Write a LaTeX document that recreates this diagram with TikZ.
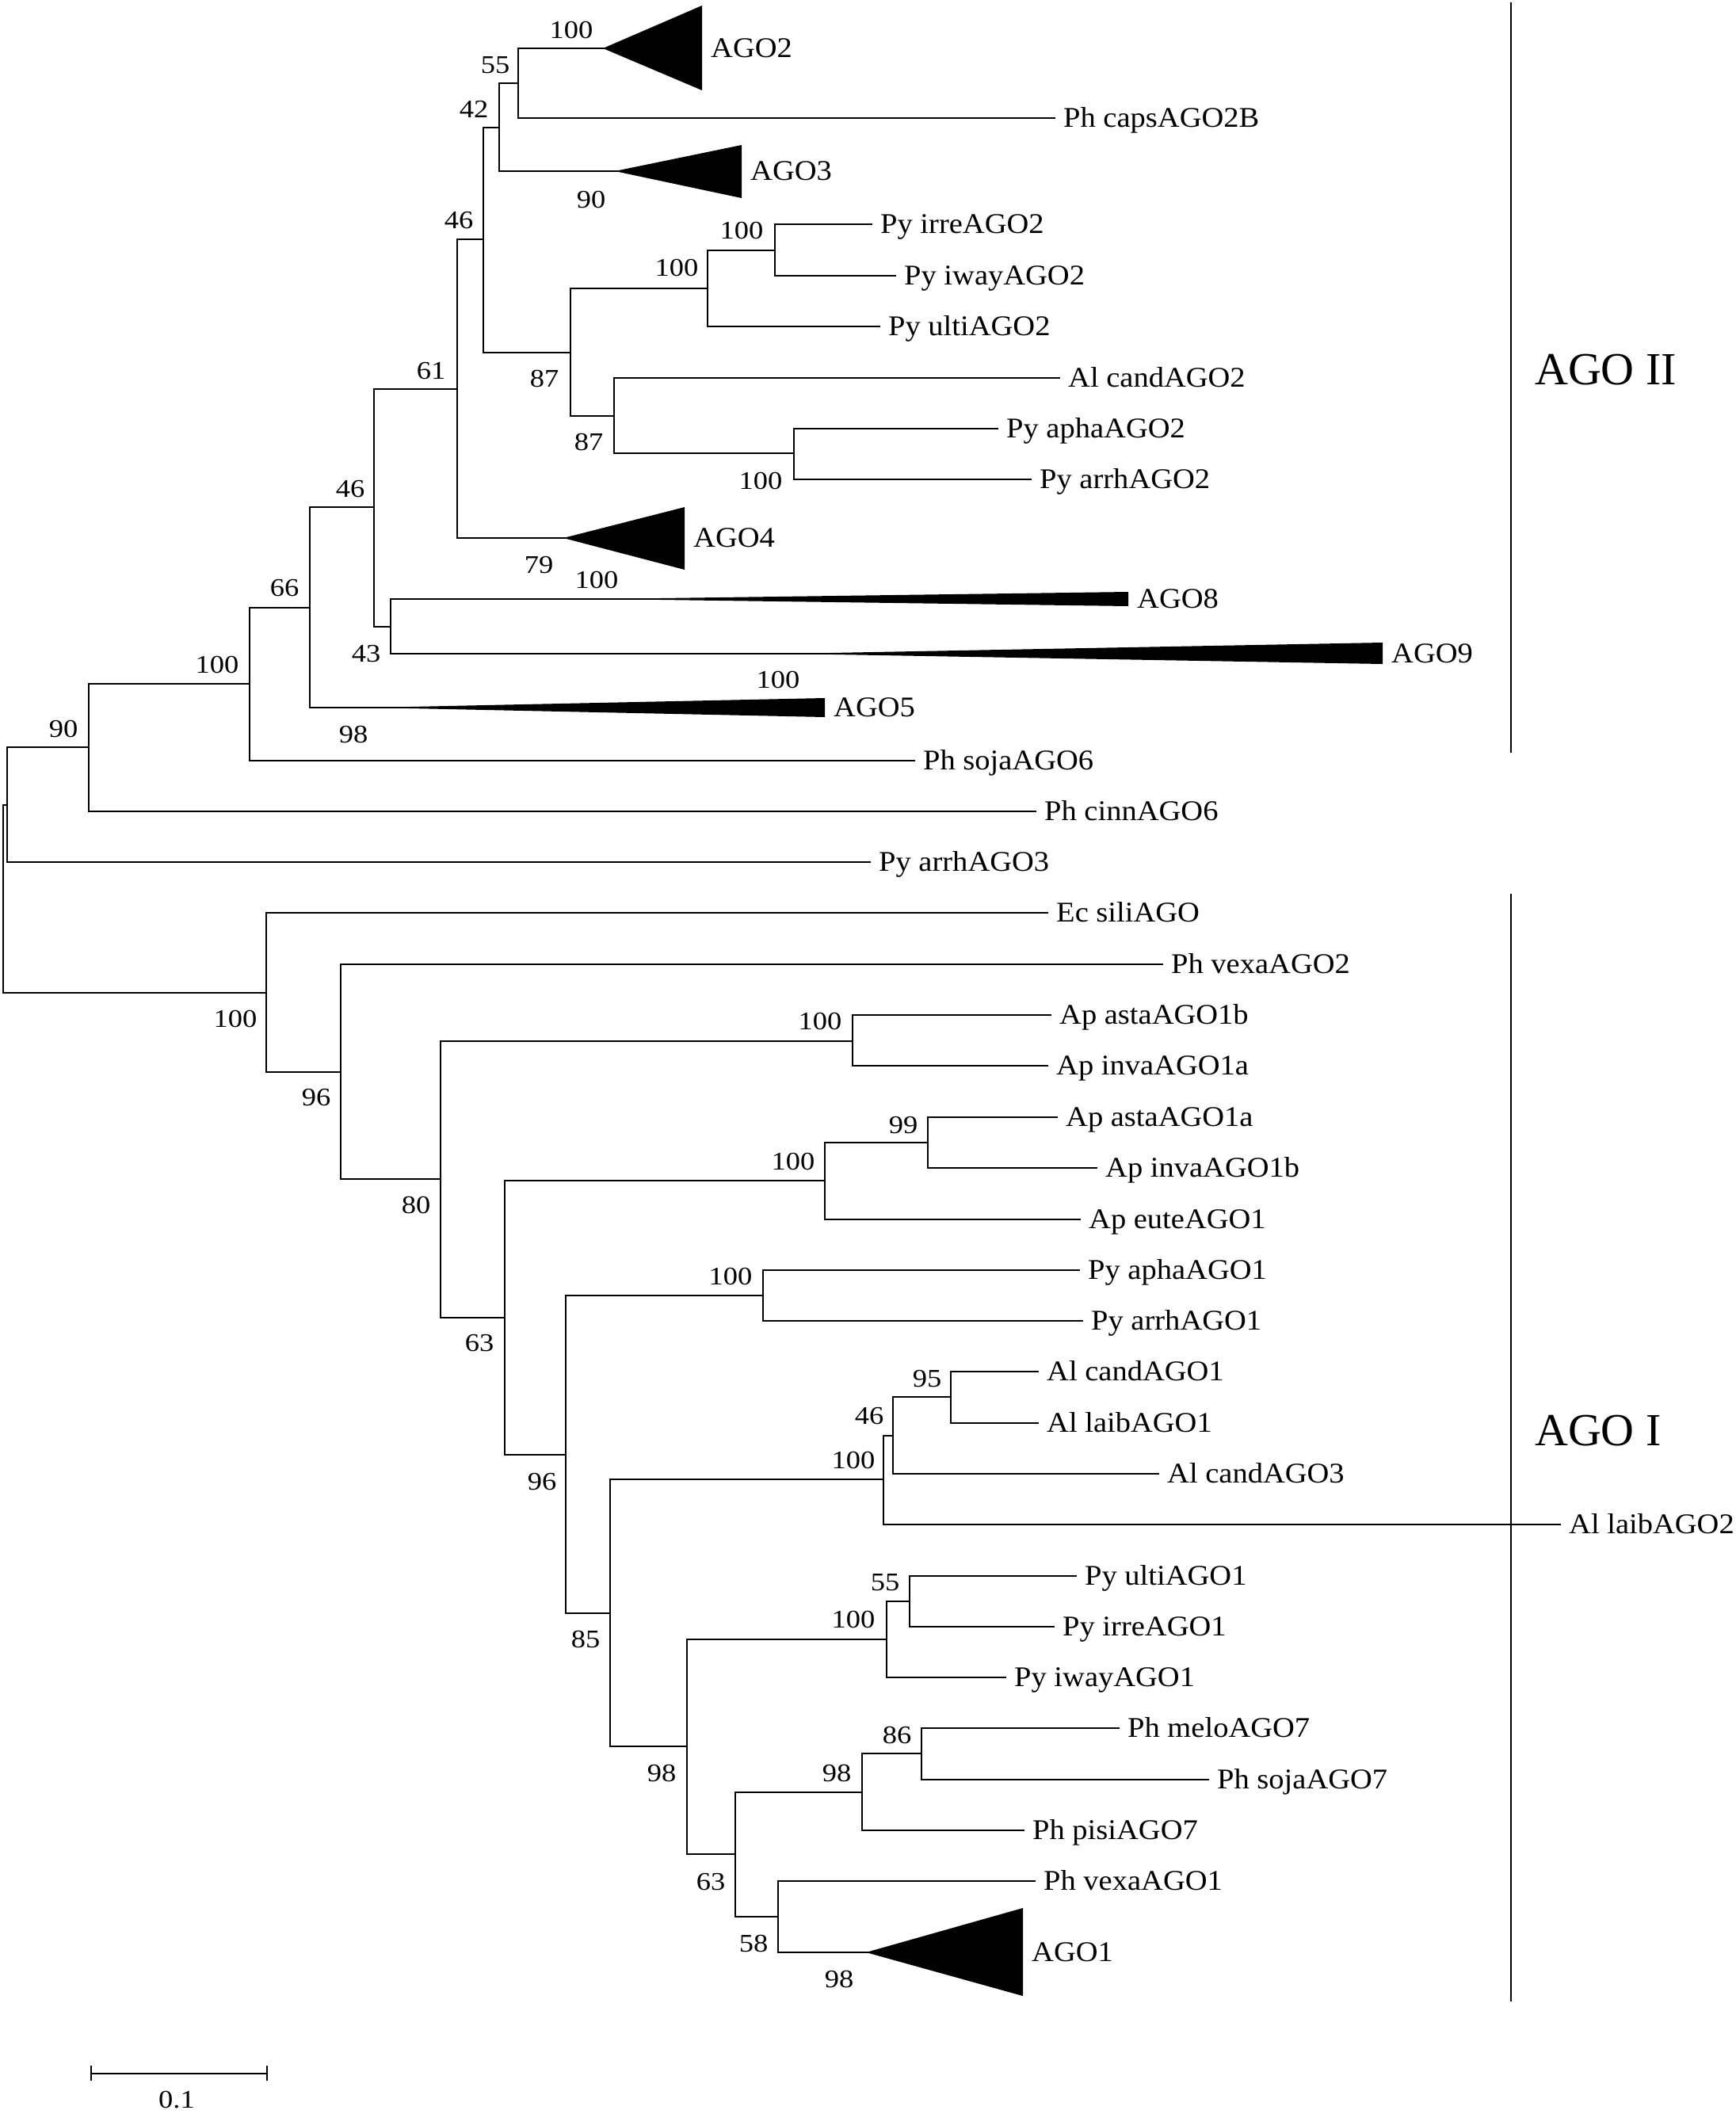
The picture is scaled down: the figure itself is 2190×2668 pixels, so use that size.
\documentclass[tikz,border=0pt]{standalone}
\usepackage{fontspec}
\setmainfont{Liberation Serif}
\newfontfamily\leaffam[FakeStretch=1.07]{Liberation Serif}
\newfontfamily\numfam[FakeStretch=1.14]{Liberation Serif}
\begin{document}
\begin{tikzpicture}[x=1pt,y=-1pt,
  br/.style={line width=2.6pt, line cap=rect},
  wedge/.style={fill=black, draw=none},
  leaf/.style={anchor=west, inner xsep=11pt, inner ysep=0pt, text height=23.8pt, text depth=0pt,
    font=\leaffam\fontsize{36}{42}\selectfont},
  num/.style={inner sep=0pt, text height=21.6pt, text depth=0pt,
    font=\numfam\fontsize{32}{38}\selectfont},
  clade/.style={anchor=west, inner sep=0pt, text height=38pt, text depth=0pt,
    font=\fontsize{58}{66}\selectfont},
  bracket/.style={line width=2.6pt}]
\useasboundingbox (0,0) rectangle (2190,2668);

% ---------- internal nodes ----------
\coordinate (root) at (4,1134);
\coordinate (nA) at (9,1016);
\coordinate (n90) at (112,943);
\coordinate (n100a) at (315,863);
\coordinate (n66) at (391,767);
\coordinate (n46b) at (472,640);
\coordinate (n61) at (577,491);
\coordinate (n46a) at (610,302);
\coordinate (n42) at (630,161);
\coordinate (n55) at (654,105);
\coordinate (n87a) at (720,445);
\coordinate (n100b) at (893,364);
\coordinate (n100c) at (978,316);
\coordinate (n87b) at (775,525);
\coordinate (n100d) at (1002,572);
\coordinate (n43) at (493,791);
\coordinate (nI) at (336,1253);
\coordinate (n96a) at (430,1353);
\coordinate (n80) at (556,1488);
\coordinate (n100e) at (1076,1314);
\coordinate (n63a) at (637,1663);
\coordinate (n100f) at (1041,1490);
\coordinate (n99) at (1171,1442);
\coordinate (n96b) at (714,1836);
\coordinate (n100g) at (963,1635);
\coordinate (n85) at (770,2036);
\coordinate (n100h) at (1115,1867);
\coordinate (n46c) at (1127,1812);
\coordinate (n95) at (1200,1763);
\coordinate (n98a) at (867,2204);
\coordinate (n100i) at (1119,2069);
\coordinate (n55b) at (1148,2021);
\coordinate (n63b) at (928,2340);
\coordinate (n98b) at (1088,2262);
\coordinate (n86) at (1163,2213);
\coordinate (n58) at (982,2419);

% ---------- collapsed clades (wedges): apex and inner end ----------
\coordinate (tAGO2) at (761,61);   \coordinate (eAGO2) at (870,61);
\coordinate (tAGO3) at (776,216);  \coordinate (eAGO3) at (920,216);
\coordinate (tAGO4) at (711,679);  \coordinate (eAGO4) at (850,679);
\coordinate (tAGO8) at (760,756);  \coordinate (eAGO8) at (1410,756);
\coordinate (tAGO9) at (995,825);  \coordinate (eAGO9) at (1730,825);
\coordinate (tAGO5) at (470,893);  \coordinate (eAGO5) at (1028,893);
\coordinate (tAGO1) at (1093,2464); \coordinate (eAGO1) at (1275,2464);
\fill[wedge] (tAGO2) -- (886,7) -- (886,114) -- cycle;
\fill[wedge] (tAGO3) -- (936,183) -- (936,250) -- cycle;
\fill[wedge] (tAGO4) -- (864,640) -- (864,719) -- cycle;
\fill[wedge] (tAGO8) -- (1424,747) -- (1424,765) -- cycle;
\fill[wedge] (tAGO9) -- (1745,811) -- (1745,838) -- cycle;
\fill[wedge] (tAGO5) -- (1041,881) -- (1041,905) -- cycle;
\fill[wedge] (tAGO1) -- (1291,2408) -- (1291,2519) -- cycle;

% ---------- leaf labels ----------
\node[leaf] (AGO2) at (886,61) {AGO2};
\node[leaf] (capsAGO2B) at (1331,149) {Ph capsAGO2B};
\node[leaf] (AGO3) at (936,216) {AGO3};
\node[leaf] (irreAGO2) at (1100,283) {Py irreAGO2};
\node[leaf] (iwayAGO2) at (1130,348) {Py iwayAGO2};
\node[leaf] (ultiAGO2) at (1110,412) {Py ultiAGO2};
\node[leaf] (candAGO2) at (1337,477) {Al candAGO2};
\node[leaf] (aphaAGO2) at (1259,541) {Py aphaAGO2};
\node[leaf] (arrhAGO2) at (1301,605) {Py arrhAGO2};
\node[leaf] (AGO4) at (864,679) {AGO4};
\node[leaf] (AGO8) at (1424,756) {AGO8};
\node[leaf] (AGO9) at (1745,825) {AGO9};
\node[leaf] (AGO5) at (1041,893) {AGO5};
\node[leaf] (sojaAGO6) at (1154,960) {Ph sojaAGO6};
\node[leaf] (cinnAGO6) at (1307,1024) {Ph cinnAGO6};
\node[leaf] (arrhAGO3) at (1098,1088) {Py arrhAGO3};
\node[leaf] (siliAGO) at (1322,1152) {Ec siliAGO};
\node[leaf] (vexaAGO2) at (1467,1217) {Ph vexaAGO2};
\node[leaf] (astaAGO1b) at (1326,1281) {Ap astaAGO1b};
\node[leaf] (invaAGO1a) at (1322,1345) {Ap invaAGO1a};
\node[leaf] (astaAGO1a) at (1334,1410) {Ap astaAGO1a};
\node[leaf] (invaAGO1b) at (1384,1474) {Ap invaAGO1b};
\node[leaf] (euteAGO1) at (1363,1539) {Ap euteAGO1};
\node[leaf] (aphaAGO1) at (1362,1603) {Py aphaAGO1};
\node[leaf] (arrhAGO1) at (1366,1667) {Py arrhAGO1};
\node[leaf] (candAGO1) at (1310,1731) {Al candAGO1};
\node[leaf] (laibAGO1) at (1310,1796) {Al laibAGO1};
\node[leaf] (candAGO3) at (1462,1860) {Al candAGO3};
\node[leaf] (laibAGO2) at (1969,1924) {Al laibAGO2};
\node[leaf] (ultiAGO1) at (1358,1989) {Py ultiAGO1};
\node[leaf] (irreAGO1) at (1330,2053) {Py irreAGO1};
\node[leaf] (iwayAGO1) at (1269,2117) {Py iwayAGO1};
\node[leaf] (meloAGO7) at (1412,2181) {Ph meloAGO7};
\node[leaf] (sojaAGO7) at (1525,2246) {Ph sojaAGO7};
\node[leaf] (pisiAGO7) at (1292,2310) {Ph pisiAGO7};
\node[leaf] (vexaAGO1) at (1306,2374) {Ph vexaAGO1};
\node[leaf] (AGO1) at (1291,2464) {AGO1};

% ---------- branches ----------
\draw[br] (root) |- (nA);
\draw[br] (root) |- (nI);
\draw[br] (nA) |- (n90);
\draw[br] (nA) |- (arrhAGO3.west);
\draw[br] (n90) |- (n100a);
\draw[br] (n90) |- (cinnAGO6.west);
\draw[br] (n100a) |- (n66);
\draw[br] (n100a) |- (sojaAGO6.west);
\draw[br] (n66) |- (n46b);
\draw[br] (n66) |- (tAGO5) -- (eAGO5);
\draw[br] (n46b) |- (n61);
\draw[br] (n46b) |- (n43);
\draw[br] (n61) |- (n46a);
\draw[br] (n61) |- (tAGO4) -- (eAGO4);
\draw[br] (n46a) |- (n42);
\draw[br] (n46a) |- (n87a);
\draw[br] (n42) |- (n55);
\draw[br] (n42) |- (tAGO3) -- (eAGO3);
\draw[br] (n55) |- (tAGO2) -- (eAGO2);
\draw[br] (n55) |- (capsAGO2B.west);
\draw[br] (n87a) |- (n100b);
\draw[br] (n87a) |- (n87b);
\draw[br] (n100b) |- (n100c);
\draw[br] (n100b) |- (ultiAGO2.west);
\draw[br] (n100c) |- (irreAGO2.west);
\draw[br] (n100c) |- (iwayAGO2.west);
\draw[br] (n87b) |- (candAGO2.west);
\draw[br] (n87b) |- (n100d);
\draw[br] (n100d) |- (aphaAGO2.west);
\draw[br] (n100d) |- (arrhAGO2.west);
\draw[br] (n43) |- (tAGO8) -- (eAGO8);
\draw[br] (n43) |- (tAGO9) -- (eAGO9);
\draw[br] (nI) |- (siliAGO.west);
\draw[br] (nI) |- (n96a);
\draw[br] (n96a) |- (vexaAGO2.west);
\draw[br] (n96a) |- (n80);
\draw[br] (n80) |- (n100e);
\draw[br] (n80) |- (n63a);
\draw[br] (n100e) |- (astaAGO1b.west);
\draw[br] (n100e) |- (invaAGO1a.west);
\draw[br] (n63a) |- (n100f);
\draw[br] (n63a) |- (n96b);
\draw[br] (n100f) |- (n99);
\draw[br] (n100f) |- (euteAGO1.west);
\draw[br] (n99) |- (astaAGO1a.west);
\draw[br] (n99) |- (invaAGO1b.west);
\draw[br] (n96b) |- (n100g);
\draw[br] (n96b) |- (n85);
\draw[br] (n100g) |- (aphaAGO1.west);
\draw[br] (n100g) |- (arrhAGO1.west);
\draw[br] (n85) |- (n100h);
\draw[br] (n85) |- (n98a);
\draw[br] (n100h) |- (n46c);
\draw[br] (n100h) |- (laibAGO2.west);
\draw[br] (n46c) |- (n95);
\draw[br] (n46c) |- (candAGO3.west);
\draw[br] (n95) |- (candAGO1.west);
\draw[br] (n95) |- (laibAGO1.west);
\draw[br] (n98a) |- (n100i);
\draw[br] (n98a) |- (n63b);
\draw[br] (n100i) |- (n55b);
\draw[br] (n100i) |- (iwayAGO1.west);
\draw[br] (n55b) |- (ultiAGO1.west);
\draw[br] (n55b) |- (irreAGO1.west);
\draw[br] (n63b) |- (n98b);
\draw[br] (n63b) |- (n58);
\draw[br] (n98b) |- (n86);
\draw[br] (n98b) |- (pisiAGO7.west);
\draw[br] (n86) |- (meloAGO7.west);
\draw[br] (n86) |- (sojaAGO7.west);
\draw[br] (n58) |- (vexaAGO1.west);
\draw[br] (n58) |- (tAGO1) -- (eAGO1);

% ---------- bootstrap values ----------
\node[num] (b1) at (721,38) {100};
\node[num] (b2) at (625,82) {55};
\node[num] (b3) at (598,138) {42};
\node[num] (b4) at (746,252) {90};
\node[num] (b5) at (579,278) {46};
\node[num] (b6) at (936,291) {100};
\node[num] (b7) at (854,338) {100};
\node[num] (b8) at (544,468) {61};
\node[num] (b9) at (687,478) {87};
\node[num] (b10) at (743,558) {87};
\node[num] (b11) at (960,607) {100};
\node[num] (b12) at (442,617) {46};
\node[num] (b13) at (680,713) {79};
\node[num] (b14) at (753,732) {100};
\node[num] (b15) at (359,742) {66};
\node[num] (b16) at (462,825) {43};
\node[num] (b17) at (274,839) {100};
\node[num] (b18) at (982,858) {100};
\node[num] (b19) at (80,920) {90};
\node[num] (b20) at (446,927) {98};
\node[num] (b21) at (297,1286) {100};
\node[num] (b22) at (1035,1289) {100};
\node[num] (b23) at (399,1385) {96};
\node[num] (b24) at (1140,1420) {99};
\node[num] (b25) at (1001,1466) {100};
\node[num] (b26) at (525,1521) {80};
\node[num] (b27) at (922,1611) {100};
\node[num] (b28) at (605,1695) {63};
\node[num] (b29) at (1170,1740) {95};
\node[num] (b30) at (1097,1787) {46};
\node[num] (b31) at (1077,1843) {100};
\node[num] (b32) at (684,1870) {96};
\node[num] (b33) at (1117,1997) {55};
\node[num] (b34) at (1077,2044) {100};
\node[num] (b35) at (739,2069) {85};
\node[num] (b36) at (1132,2190) {86};
\node[num] (b37) at (835,2238) {98};
\node[num] (b38) at (1056,2238) {98};
\node[num] (b39) at (897,2375) {63};
\node[num] (b40) at (951,2453) {58};
\node[num] (b41) at (1059,2498) {98};

% ---------- clade brackets ----------
\coordinate (g2top) at (1907,3);
\coordinate (g2bot) at (1907,950);
\coordinate (g1top) at (1907,1128);
\coordinate (g1bot) at (1907,2526);
\draw[bracket] (g2top) -- (g2bot);
\draw[bracket] (g1top) -- (g1bot);
\node[clade] (agoII) at (1937,466) {AGO II};
\node[clade] (agoI) at (1937,1805) {AGO I};

% ---------- scale bar ----------
\coordinate (sbL) at (115,2617);
\coordinate (sbR) at (337,2617);
\draw[br, line cap=butt] (sbL) -- (sbR);
\draw[br, line cap=butt] ([yshift=-9pt]sbL) -- ([yshift=10pt]sbL);
\draw[br, line cap=butt] ([yshift=-9pt]sbR) -- ([yshift=10pt]sbR);
\node[num] (sblabel) at (223,2650) {0.1};
\end{tikzpicture}
\end{document}
